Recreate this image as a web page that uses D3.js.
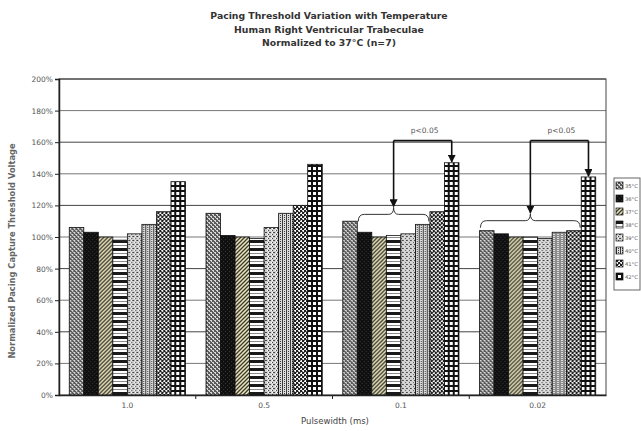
<!DOCTYPE html>
<html>
<head>
<meta charset="utf-8">
<script src="https://cdn.jsdelivr.net/npm/d3@7/dist/d3.min.js"></script>
<style>
  html, body { margin: 0; padding: 0; background: #fff; }
  svg { display: block; font-family: "DejaVu Sans", Verdana, sans-serif; }
</style>
</head>
<body>
<svg id="chart" width="641" height="431"></svg>
<script>
// ---- data ----
const titleLines = [
  "Pacing Threshold Variation with Temperature",
  "Human Right Ventricular Trabeculae",
  "Normalized to 37°C (n=7)"
];
const categories = ["1.0", "0.5", "0.1", "0.02"];
const seriesNames = ["35°C", "36°C", "37°C", "38°C", "39°C", "40°C", "41°C", "42°C"];
const s35 = [106, 115, 110, 104];
const s36 = [103, 101, 103, 102];
const s37 = [100, 100, 100, 100];
const s38 = [98, 99, 101, 100];
const s39 = [102, 106, 102, 99];
const s40 = [108, 115, 108, 103];
const s41 = [116, 120, 116, 104];
const s42 = [135, 146, 147, 138];
const seriesValues = [s35, s36, s37, s38, s39, s40, s41, s42];
const yTicks = [0, 20, 40, 60, 80, 100, 120, 140, 160, 180, 200];
const xTitle = "Pulsewidth (ms)";
const yTitle = "Normalized Pacing Capture Threshold Voltage";
// significance brackets: group index, series range under the brace, target series, label
const sigGroups = [2, 3];
const sigBraceFrom = [1, 0];
const sigBraceTo = [5, 6];
const sigTarget = [7, 7];
const sigLabels = ["p<0.05", "p<0.05"];

// ---- layout ----
const FONT = "DejaVu Sans, Verdana, sans-serif";
const svg = d3.select("#chart");
const L = 59, R = 606, T = 79, B = 395;

const x0 = d3.scaleBand().domain(categories).range([L, R])
  .paddingInner(0.15).paddingOuter(0.075);
const x1 = d3.scaleBand().domain(d3.range(seriesNames.length))
  .range([0, x0.bandwidth()]).padding(0);
const y = d3.scaleLinear().domain([0, 200]).range([B, T]);

// ---- fill patterns ----
const defs = svg.append("defs");
function pat(id, w, h, build) {
  const p = defs.append("pattern").attr("id", id)
    .attr("patternUnits", "userSpaceOnUse").attr("width", w).attr("height", h);
  build(p);
}
function px(p, color, cells) {
  cells.forEach(([cx, cy, cw, ch]) => p.append("rect")
    .attr("x", cx).attr("y", cy).attr("width", cw || 1).attr("height", ch || 1).attr("fill", color));
}
// 35: grey weave
pat("p0", 4, 4, p => {
  px(p, "#5a5a5a", [[0, 0, 4, 4]]);
  px(p, "#d8d8d8", [[0, 0, 2, 1], [2, 2, 2, 1], [1, 1], [3, 3]]);
});
// 36: near solid black
pat("p1", 4, 4, p => {
  px(p, "#101010", [[0, 0, 4, 4]]);
  px(p, "#333", [[1, 1], [3, 3]]);
});
// 37: diagonal hatching on pale yellow
pat("p2", 4, 4, p => {
  px(p, "#ece6bd", [[0, 0, 4, 4]]);
  p.append("path").attr("d", "M-1,5 L5,-1 M-1,1 L1,-1 M3,5 L5,3")
    .attr("stroke", "#3a3a30").attr("stroke-width", 1.3);
});
// 38: horizontal bands
pat("p3", 4, 8, p => {
  px(p, "#fff", [[0, 0, 4, 8]]);
  px(p, "#1a1a1a", [[0, 0, 4, 3]]);
  px(p, "#8a8a8a", [[0, 5, 4, 1]]);
});
// 39: light speckle
pat("p4", 4, 4, p => {
  px(p, "#d0d0d0", [[0, 0, 4, 4]]);
  px(p, "#444", [[0, 0], [2, 2], [3, 0]]);
  px(p, "#fff", [[1, 2], [2, 0]]);
});
// 40: vertical dotted lines
pat("p5", 4, 4, p => {
  px(p, "#dedede", [[0, 0, 4, 4]]);
  px(p, "#3a3a3a", [[0, 0, 1, 4], [2, 1], [2, 3]]);
});
// 41: dark checkerboard
pat("p6", 4, 4, p => {
  px(p, "#f4f4f4", [[0, 0, 4, 4]]);
  px(p, "#1e1e1e", [[0, 0, 2, 2], [2, 2, 2, 2]]);
  px(p, "#777", [[2, 0], [0, 3]]);
});
// 42: open grid
pat("p7", 5, 5, p => {
  px(p, "#fff", [[0, 0, 5, 5]]);
  px(p, "#111", [[0, 0, 5, 2], [0, 0, 2, 5]]);
});

// ---- title ----
svg.append("g").selectAll("text").data(titleLines).join("text")
  .attr("x", 329).attr("y", (d, i) => 19 + i * 13.5)
  .attr("text-anchor", "middle").attr("font-size", 9.3).attr("font-weight", "bold")
  .attr("fill", "#333").text(d => d);

// ---- gridlines ----
svg.append("g").selectAll("line").data(yTicks.filter(t => t > 0)).join("line")
  .attr("x1", L).attr("x2", R).attr("y1", d => y(d)).attr("y2", d => y(d))
  .attr("stroke", (d, i) => i % 2 ? "#444" : "#777").attr("stroke-width", 1);

// plot frame
svg.append("rect").attr("x", L).attr("y", T).attr("width", R - L).attr("height", B - T)
  .attr("fill", "none").attr("stroke", "#444").attr("stroke-width", 1);

// ---- bars ----
const groups = svg.append("g").selectAll("g").data(categories).join("g")
  .attr("transform", d => `translate(${x0(d)},0)`);
groups.selectAll("rect")
  .data((d, ci) => seriesValues.map((vals, si) => ({ si, v: vals[ci] })))
  .join("rect")
  .attr("x", d => x1(d.si)).attr("width", x1.bandwidth())
  .attr("y", d => y(d.v)).attr("height", d => B - y(d.v))
  .attr("fill", d => `url(#p${d.si})`)
  .attr("stroke", "#111").attr("stroke-width", 0.8);

// ---- axes ----
const yAxis = d3.axisLeft(y).tickValues(yTicks).tickSize(4).tickFormat(d => d + "%");
const gy = svg.append("g").attr("transform", `translate(${L},0)`).call(yAxis);
gy.select(".domain").attr("stroke", "#222").attr("stroke-width", 1.5);
gy.selectAll(".tick line").attr("stroke", "#222");
gy.selectAll(".tick text").attr("font-size", 7.5).attr("fill", "#555")
  .attr("font-family", FONT).attr("x", -6);

const xAxis = d3.axisBottom(x0).tickSize(0).tickPadding(8);
const gx = svg.append("g").attr("transform", `translate(0,${B})`).call(xAxis);
gx.select(".domain").attr("stroke", "#222").attr("stroke-width", 1.5);
gx.selectAll(".tick text").attr("font-size", 7.5).attr("fill", "#555")
  .attr("font-family", FONT);
// category separators
const step = x0.step();
svg.append("g").selectAll("line").data(categories.slice(1)).join("line")
  .attr("x1", d => x0(d) - step * 0.075).attr("x2", d => x0(d) - step * 0.075)
  .attr("y1", B).attr("y2", B + 4).attr("stroke", "#222");

svg.append("text").attr("x", 335).attr("y", 424).attr("text-anchor", "middle")
  .attr("font-size", 8.5).attr("fill", "#444").text(xTitle);
svg.append("text").attr("transform", "translate(15,251) rotate(-90)")
  .attr("text-anchor", "middle").attr("font-size", 8.3).attr("font-weight", "bold")
  .attr("fill", "#666").text(yTitle);

// ---- significance brackets ----
defs.append("marker").attr("id", "arrow").attr("viewBox", "0 0 8 8")
  .attr("refX", 7).attr("refY", 4).attr("markerWidth", 5).attr("markerHeight", 5)
  .attr("orient", "auto").append("path").attr("d", "M0,0 L8,4 L0,8 Z").attr("fill", "#111");

const barX = (ci, si) => x0(categories[ci]) + x1(si);
const sig = svg.append("g");
sigGroups.forEach((ci, k) => {
  const a = sigBraceFrom[k], b = sigBraceTo[k], t = sigTarget[k];
  const bx0 = barX(ci, a) + 1, bx1 = barX(ci, b) + x1.bandwidth() - 1;
  const braceTop = Math.max(...seriesValues.slice(a, b + 1).map(s => s[ci]));
  const yEnd = y(braceTop) - 3, yTip = yEnd - 14, yMid = yEnd - 7;
  const cx = (bx0 + bx1) / 2;
  // curly brace over the compared bars
  sig.append("path")
    .attr("d", `M${bx0},${yEnd} Q${bx0},${yMid} ${bx0 + 6},${yMid} L${cx - 5},${yMid} Q${cx},${yMid} ${cx},${yTip}` +
      ` Q${cx},${yMid} ${cx + 5},${yMid} L${bx1 - 6},${yMid} Q${bx1},${yMid} ${bx1},${yEnd}`)
    .attr("fill", "none").attr("stroke", "#333").attr("stroke-width", 1);
  const tx = barX(ci, t) + x1.bandwidth() / 2;
  const yBar = y(seriesValues[t][ci]);
  const yLine = y(161);
  // bracket: top bar, then arrows down to the brace and to the target bar
  sig.append("path")
    .attr("d", `M${cx},${yLine} L${tx},${yLine}`)
    .attr("fill", "none").attr("stroke", "#111").attr("stroke-width", 1.6);
  sig.append("path")
    .attr("d", `M${cx},${yLine} L${cx},${yTip - 1}`)
    .attr("fill", "none").attr("stroke", "#111").attr("stroke-width", 1.6)
    .attr("marker-end", "url(#arrow)");
  sig.append("path")
    .attr("d", `M${tx},${yLine} L${tx},${yBar - 1}`)
    .attr("fill", "none").attr("stroke", "#111").attr("stroke-width", 1.6)
    .attr("marker-end", "url(#arrow)");
  sig.append("text").attr("x", (cx + tx) / 2 + 2).attr("y", yLine - 8)
    .attr("text-anchor", "middle").attr("font-size", 7.5).attr("fill", "#555")
    .text(sigLabels[k]);
});

// ---- legend ----
const lg = svg.append("g").attr("transform", "translate(614,178)");
lg.append("rect").attr("x", 0).attr("y", 0).attr("width", 26).attr("height", 112)
  .attr("fill", "#fff").attr("stroke", "#666");
const items = lg.selectAll("g").data(seriesNames).join("g")
  .attr("transform", (d, i) => `translate(2,${4 + i * 13})`);
items.append("rect").attr("width", 7).attr("height", 7)
  .attr("fill", (d, i) => `url(#p${i})`).attr("stroke", "#111").attr("stroke-width", 0.7);
items.append("text").attr("x", 9).attr("y", 6).attr("font-size", 5.2).attr("fill", "#555").text(d => d);
</script>
</body>
</html>
